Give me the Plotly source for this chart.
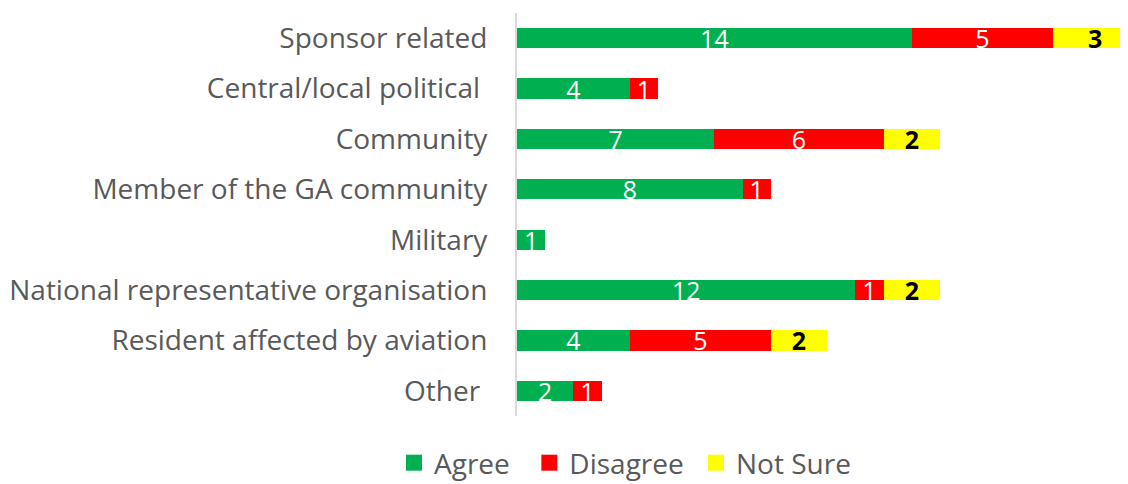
import plotly.graph_objects as go

categories = ["Sponsor related", "Central/local political\u00a0", "Community",
              "Member of the GA community", "Military",
              "National representative organisation",
              "Resident affected by aviation", "Other\u00a0"]
agree = [14, 4, 7, 8, 1, 12, 4, 2]
disagree = [5, 1, 6, 1, 0, 1, 5, 1]
not_sure = [3, 0, 2, 0, 0, 2, 2, 0]

series = [
    ("Agree", agree, "#00B050", "white", "\u00a0\u00a0"),
    ("Disagree", disagree, "#FF0000", "white", "\u00a0"),
    ("Not Sure", not_sure, "#FFFF00", "black", ""),
]

FONT = "Open Sans"
W, H = 1128, 476  # page body has an 8px margin
fig = go.Figure()
for name, vals, color, tcolor, pad in series:
    fig.add_trace(go.Bar(
        y=categories, x=vals, name=name, orientation="h", showlegend=False,
        marker=dict(color=color, line=dict(width=0)),
        text=[str(v) if v else "" for v in vals],
        textposition="inside", insidetextanchor="middle",
        constraintext="none", textangle=0,
        textfont=dict(family=FONT, size=25, color=tcolor,
                      weight="bold" if tcolor == "black" else "normal"),
        hoverinfo="skip",
    ))
for name, vals, color, tcolor, pad in series:
    fig.add_trace(go.Scatter(
        x=[None], y=[None], mode="markers", name=name + pad,
        marker=dict(symbol="square", size=16, color=color),
        hoverinfo="skip",
    ))

fig.update_layout(
    barmode="stack", bargap=0.6,
    width=W, height=H,
    margin=dict(l=509, r=0, t=5, b=68, autoexpand=False),
    paper_bgcolor="white", plot_bgcolor="white",
    font=dict(family=FONT, size=28, color="#595959"),
    xaxis=dict(range=[0, 21.95], visible=False, fixedrange=True),
    yaxis=dict(autorange="reversed", showline=True, linecolor="#D9D9D9",
               linewidth=2, ticks="", ticklabelstandoff=22, automargin=False,
               showgrid=False, zeroline=False,
               tickfont=dict(family=FONT, size=28, color="#595959")),
    legend=dict(orientation="h", xref="container", yref="container",
                x=386 / W, xanchor="left", y=1 - 455 / H,
                yanchor="middle", font=dict(size=28, color="#595959"),
                itemwidth=30, traceorder="normal"),
    showlegend=True,
)
fig.write_html("out.html")
